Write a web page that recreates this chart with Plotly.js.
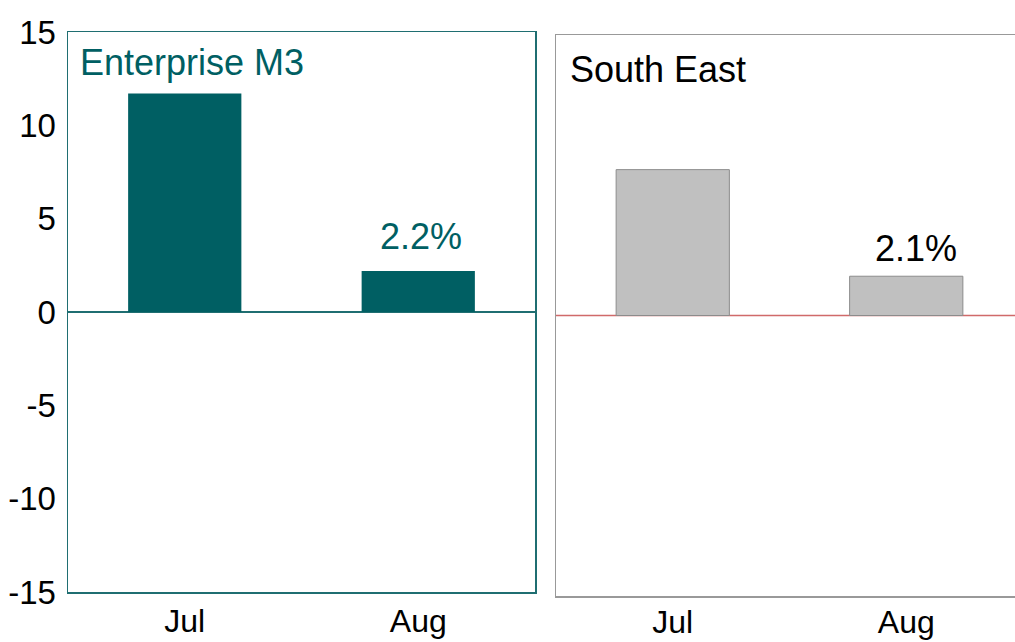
<!DOCTYPE html>
<html><head><meta charset="utf-8">
<script src="https://cdn.plot.ly/plotly-3.0.1.min.js"></script>
<style>html,body{margin:0;padding:0;overflow:hidden;background:#fff;width:1015px;height:642px}#chart{width:1030px;height:642px}</style>
</head><body><div id="chart"></div>
<script>
const categories = ["Jul", "Aug"];
const m3Values = [11.7, 2.2];
const seValues = [7.8, 2.1];
const panelTitles = ["Enterprise M3", "South East"];
const yTickVals = [-15, -10, -5, 0, 5, 10, 15];
const yTickText = ["-15", "-10", "-5", "0", "5", "10", "15"];

const FONT = '"Liberation Sans Narrow", "Arial Narrow", "Liberation Sans", Arial, sans-serif';
const TEAL = '#005F63';

const traces = [
  {type:'bar', x:categories, y:m3Values, xaxis:'x', yaxis:'y',
   marker:{color:TEAL, line:{width:0}}, hoverinfo:'skip'},
  {type:'bar', x:categories, y:seValues, xaxis:'x2', yaxis:'y2',
   marker:{color:'#C0C0C0', line:{color:'#8C8C8C', width:1}}, hoverinfo:'skip'}
];

const W = 1030, H = 642, ml = 68, mt = 32, mb = 46;
const pw = W - ml, ph = H - mt - mb;
const layout = {
  width: W, height: H, showlegend:false,
  margin:{l:ml, r:0, t:mt, b:mb},
  paper_bgcolor:'#fff', plot_bgcolor:'#fff',
  font:{family:FONT, size:33, color:'#000'},
  bargap:0.515,
  xaxis:{domain:[0, 467/pw], showline:true, mirror:true, linecolor:'#1F6E71', linewidth:1.5,
         ticks:'', showgrid:false, tickfont:{size:32}, fixedrange:true},
  yaxis:{domain:[(H-mb-592)/ph, 1], range:[-15,15], tickvals:yTickVals, ticktext:yTickText,
         showline:true, mirror:true, ticklabelstandoff:4,
         linecolor:'#1F6E71', linewidth:1.5, showgrid:false, zeroline:true, zerolinecolor:'#1F6E71',
         zerolinewidth:1.5, ticks:'', tickfont:{size:33}, fixedrange:true},
  xaxis2:{domain:[(556-ml)/pw, (1023-ml)/pw], anchor:'y2', showline:true, mirror:true, linecolor:'#999999',
          linewidth:1.5, ticks:'', showgrid:false, tickfont:{size:32}, ticklabelstandoff:-3, fixedrange:true},
  yaxis2:{domain:[0, (H-mb-35)/ph], anchor:'x2', range:[-15,15], showticklabels:false, showline:true,
          mirror:true, linecolor:'#999999', linewidth:1.5, showgrid:false, zeroline:false,
          ticks:'', fixedrange:true},
  shapes:[
    {type:'line', xref:'x2 domain', yref:'y2', x0:0, x1:1, y0:0, y1:0, layer:'below',
     line:{color:'#D06A6A', width:1.5}}
  ],
  annotations:[
    {xref:'x domain', yref:'y domain', x:0.022, y:0.985, xanchor:'left', yanchor:'top',
     text:panelTitles[0], showarrow:false, font:{size:36, color:TEAL}},
    {xref:'x2 domain', yref:'y2 domain', x:0.026, y:0.978, xanchor:'left', yanchor:'top',
     text:panelTitles[1], showarrow:false, font:{size:36, color:'#000'}},
    {xref:'x', yref:'y', x:categories[1], y:m3Values[1], yanchor:'bottom', yshift:12, xshift:3,
     text:m3Values[1].toFixed(1)+'%', showarrow:false, font:{size:36, color:TEAL}},
    {xref:'x2', yref:'y2', x:categories[1], y:seValues[1], yanchor:'bottom', yshift:5, xshift:10,
     text:seValues[1].toFixed(1)+'%', showarrow:false, font:{size:36, color:'#000'}}
  ]
};
Plotly.newPlot('chart', traces, layout, {displayModeBar:false, staticPlot:true});
</script></body></html>
